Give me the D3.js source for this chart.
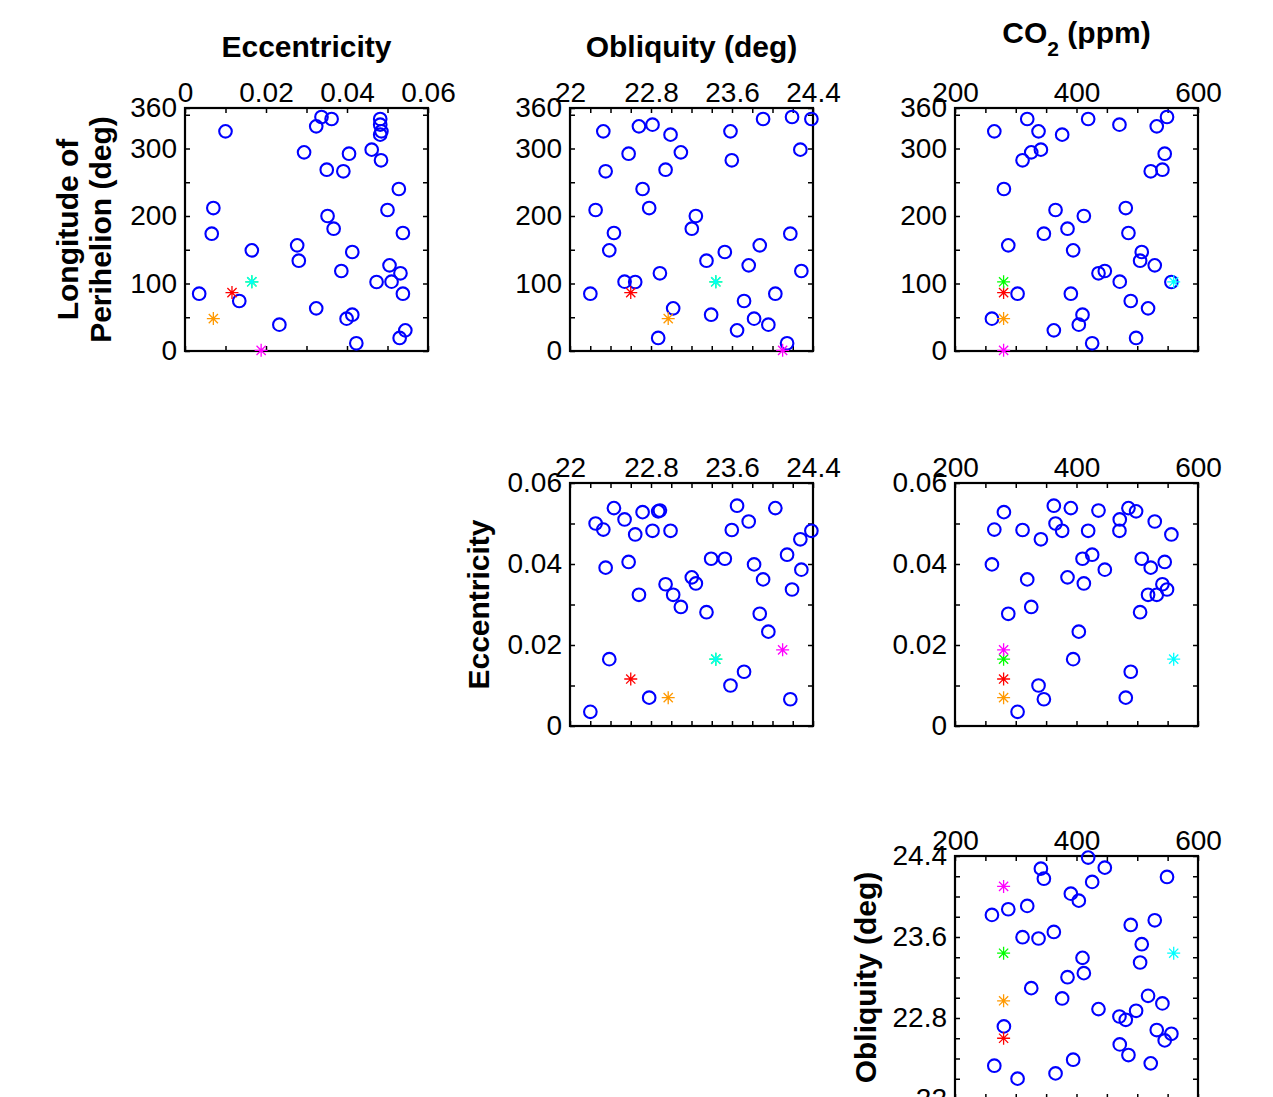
<!DOCTYPE html>
<html>
<head>
<meta charset="utf-8">
<script src="https://cdn.jsdelivr.net/npm/d3@7"></script>
<style>
  body { margin: 0; background: #fff; }
  svg text { font-family: "Liberation Sans", Arial, Helvetica, sans-serif; fill: #000; }
</style>
</head>
<body>
<div class="chart"></div>
<script>
// sampled parameter sets (blue circles), one entry per run
const ecc = [0.0100, 0.0337, 0.0362, 0.0324, 0.0482, 0.0482, 0.0485, 0.0482, 0.0294, 0.0405,
             0.0461, 0.0484, 0.0350, 0.0391, 0.0528, 0.0070, 0.0500, 0.0352, 0.0367, 0.0066,
             0.0538, 0.0165, 0.0277, 0.0281, 0.0413, 0.0386, 0.0505, 0.0532, 0.0473, 0.0510,
             0.0035, 0.0134, 0.0538, 0.0324, 0.0233, 0.0399, 0.0413, 0.0423, 0.0544, 0.0530];
const obl = [23.585, 24.193, 23.907, 22.681, 24.384, 22.815, 22.329, 22.993, 23.095, 22.579,
             24.275, 23.598, 22.944, 22.352, 22.717, 22.782, 22.253, 23.243, 23.203, 24.176,
             22.434, 22.388, 23.874, 23.348, 23.529, 24.285, 23.765, 22.888, 22.644, 22.539,
             22.201, 23.719, 24.028, 23.019, 23.959, 23.818, 23.394, 24.144, 23.650, 22.871];
const co2 = [337.5, 549.0, 318.9, 532.1, 419.2, 470.7, 264.7, 376.4, 325.5, 545.2,
             341.4, 311.2, 541.4, 522.2, 280.5, 481.1, 365.5, 412.1, 385.2, 346.3,
             485.5, 394.5, 287.7, 504.7, 507.4, 446.6, 528.8, 436.2, 556.2, 471.2,
             303.0, 489.3, 390.7, 517.8, 403.8, 260.8, 409.9, 425.8, 362.7, 498.1];
const lop = [325.4, 346.7, 343.7, 332.8, 343.7, 335.3, 325.4, 320.5, 294.3, 292.3,
             298.3, 282.5, 268.6, 266.2, 240.0, 211.8, 208.9, 200.0, 181.2, 173.8,
             174.8, 149.1, 156.5, 133.8, 146.7, 118.5, 126.9, 115.1, 102.2, 102.7,
             84.9, 74.1, 84.9, 63.2, 39.0, 47.9, 53.8, 11.4, 30.6, 19.3];

// reference runs (asterisks)
const refColors = ['#ff0000', '#ff9900', '#00ff00', '#00ffff', '#ff00ff'];
const refEcc = [0.0116, 0.0070, 0.0165, 0.0165, 0.0188];
const refObl = [22.60, 22.97, 23.44, 23.44, 24.10];
const refCo2 = [280, 280, 280, 560, 280];
const refLop = [86.5, 48, 102.5, 102.5, 1];

// axis ticks and tick labels
const eccTicks = d3.range(7).map(i => i * 0.01);
const eccLabels = [0, 0.02, 0.04, 0.06];
const oblTicks = d3.range(13).map(i => 22 + i * 0.2);
const oblLabels = [22, 22.8, 23.6, 24.4];
const co2Ticks = d3.range(200, 601, 50);
const co2Labels = [200, 400, 600];
const lopTicks = [0, 50, 100, 150, 200, 250, 300, 350, 360];
const lopLabels = [0, 100, 200, 300, 360];

const vars = {
  ecc: { values: ecc, ref: refEcc, domain: [0, 0.06], ticks: eccTicks, labels: eccLabels },
  obl: { values: obl, ref: refObl, domain: [22, 24.4], ticks: oblTicks, labels: oblLabels },
  co2: { values: co2, ref: refCo2, domain: [200, 600], ticks: co2Ticks, labels: co2Labels },
  lop: { values: lop, ref: refLop, domain: [0, 360], ticks: lopTicks, labels: lopLabels }
};

const panels = [
  { x: 'ecc', y: 'lop', col: 0, row: 0 },
  { x: 'obl', y: 'lop', col: 1, row: 0 },
  { x: 'co2', y: 'lop', col: 2, row: 0 },
  { x: 'obl', y: 'ecc', col: 1, row: 1 },
  { x: 'co2', y: 'ecc', col: 2, row: 1 },
  { x: 'co2', y: 'obl', col: 2, row: 2 }
];

const width = 1273, height = 1097;
const size = 243;
const colX = [185, 570, 955];
const rowY = [108, 483, 856];
const tickFont = 28, labelFont = 30;

const svg = d3.select('.chart').append('svg')
  .attr('width', width)
  .attr('height', height);

const star = d3.symbol().type({
  draw(ctx, s) {
    const r = 6.5, d = r * Math.SQRT1_2;
    ctx.moveTo(-r, 0); ctx.lineTo(r, 0);
    ctx.moveTo(0, -r); ctx.lineTo(0, r);
    ctx.moveTo(-d, -d); ctx.lineTo(d, d);
    ctx.moveTo(-d, d); ctx.lineTo(d, -d);
  }
})();

panels.forEach(p => {
  const vx = vars[p.x], vy = vars[p.y];
  const x = d3.scaleLinear().domain(vx.domain).range([0, size]);
  const y = d3.scaleLinear().domain(vy.domain).range([size, 0]);
  const g = svg.append('g').attr('transform', `translate(${colX[p.col]},${rowY[p.row]})`);

  // inward ticks on all four sides
  const tickAxes = [
    [d3.axisTop(x).tickValues(vx.ticks), 0, 0],
    [d3.axisBottom(x).tickValues(vx.ticks), 0, size],
    [d3.axisLeft(y).tickValues(vy.ticks), 0, 0],
    [d3.axisRight(y).tickValues(vy.ticks), size, 0]
  ];
  tickAxes.forEach(([ax, tx, ty]) => {
    const a = g.append('g').attr('transform', `translate(${tx},${ty})`)
      .call(ax.tickSizeInner(-5).tickSizeOuter(0).tickFormat(''));
    a.select('.domain').remove();
    a.selectAll('line').attr('stroke', '#000').attr('stroke-width', 1.5);
  });

  // tick labels
  const xl = g.append('g')
    .call(d3.axisTop(x).tickValues(vx.labels).tickSize(0).tickPadding(6).tickFormat(String));
  xl.select('.domain').remove();
  xl.selectAll('text').attr('font-size', tickFont).attr('font-family', null);

  const yl = g.append('g')
    .call(d3.axisLeft(y).tickValues(vy.labels).tickSize(0).tickPadding(8).tickFormat(String));
  yl.select('.domain').remove();
  yl.selectAll('text').attr('font-size', tickFont).attr('font-family', null);

  g.append('rect')
    .attr('width', size).attr('height', size)
    .attr('fill', 'none').attr('stroke', '#000').attr('stroke-width', 2.2);

  g.selectAll('circle.run')
    .data(d3.range(vx.values.length))
    .enter().append('circle')
    .attr('class', 'run')
    .attr('cx', i => x(vx.values[i]))
    .attr('cy', i => y(vy.values[i]))
    .attr('r', 6.3)
    .attr('fill', 'none')
    .attr('stroke', '#0000ff')
    .attr('stroke-width', 2.1);

  g.selectAll('path.ref')
    .data(d3.range(refColors.length))
    .enter().append('path')
    .attr('class', 'ref')
    .attr('d', star)
    .attr('transform', i => `translate(${x(vx.ref[i])},${y(vy.ref[i])})`)
    .attr('fill', 'none')
    .attr('stroke', i => refColors[i])
    .attr('stroke-width', 1.3);
});

// column titles
const titleY = 57;
svg.append('text')
  .attr('x', colX[0] + size / 2).attr('y', titleY)
  .attr('text-anchor', 'middle').attr('font-size', labelFont).attr('font-weight', 'bold')
  .text('Eccentricity');
svg.append('text')
  .attr('x', colX[1] + size / 2).attr('y', titleY)
  .attr('text-anchor', 'middle').attr('font-size', labelFont).attr('font-weight', 'bold')
  .text('Obliquity (deg)');
const co2Title = svg.append('text')
  .attr('x', colX[2] + size / 2).attr('y', 43)
  .attr('text-anchor', 'middle').attr('font-size', labelFont).attr('font-weight', 'bold');
co2Title.append('tspan').text('CO');
co2Title.append('tspan').attr('dy', 13).attr('font-size', 21).text('2');
co2Title.append('tspan').attr('dy', -13).text('\u00a0(ppm)');

// row labels
function yLabel(lines, xPos, yCenter) {
  const t = svg.append('text')
    .attr('transform', `translate(${xPos},${yCenter}) rotate(-90)`)
    .attr('text-anchor', 'middle').attr('font-size', labelFont).attr('font-weight', 'bold');
  lines.forEach((s, i) => {
    t.append('tspan').attr('x', 0).attr('y', (i - lines.length + 1) * 33).text(s);
  });
}
yLabel(['Longitude of', 'Perihelion (deg)'], colX[0] - 74, rowY[0] + size / 2);
yLabel(['Eccentricity'], colX[1] - 81, rowY[1] + size / 2);
yLabel(['Obliquity (deg)'], colX[2] - 79, rowY[2] + size / 2);
</script>
</body>
</html>
